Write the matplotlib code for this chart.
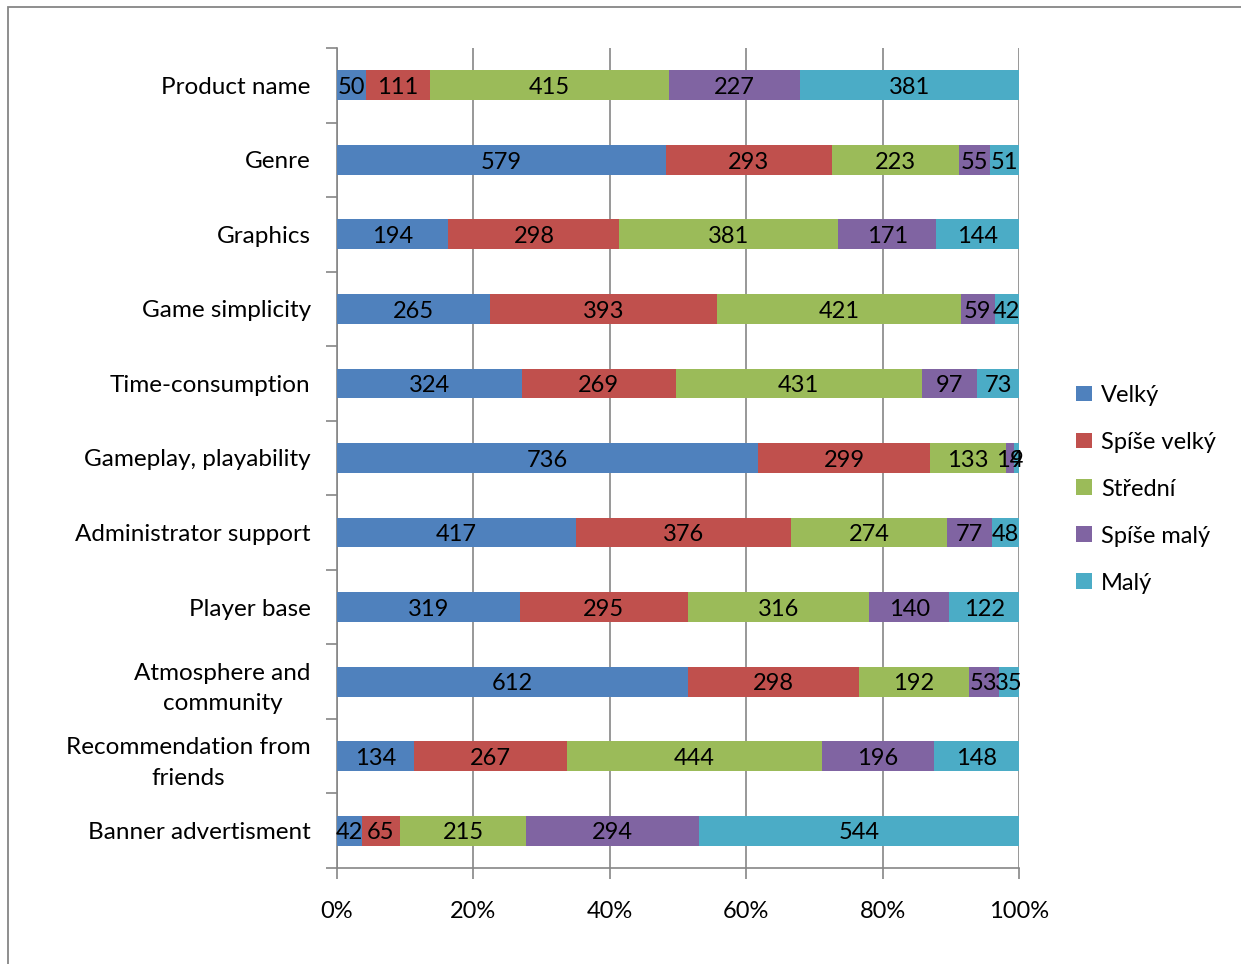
import matplotlib.pyplot as plt
from matplotlib.patches import Rectangle
import numpy as np

plt.rcParams['font.family'] = ['Lato', 'DejaVu Sans']

categories = ["Product name", "Genre", "Graphics", "Game simplicity",
              "Time-consumption", "Gameplay, playability", "Administrator support",
              "Player base", "Atmosphere and\ncommunity",
              "Recommendation from\nfriends", "Banner advertisment"]
series = ["Velký", "Spíše velký", "Střední", "Spíše malý", "Malý"]
colors = ["#4F81BD", "#C0504D", "#9BBB59", "#8064A2", "#4BACC6"]

velky = [50, 579, 194, 265, 324, 736, 417, 319, 612, 134, 42]
spise_velky = [111, 293, 298, 393, 269, 299, 376, 295, 298, 267, 65]
stredni = [415, 223, 381, 421, 431, 133, 274, 316, 192, 444, 215]
spise_maly = [227, 55, 171, 59, 97, 14, 77, 140, 53, 196, 294]
maly = [381, 51, 144, 42, 73, 9, 48, 122, 35, 148, 544]

data = np.array([velky, spise_velky, stredni, spise_maly, maly], dtype=float)
totals = data.sum(axis=0)
pct = data / totals

fig = plt.figure(figsize=(12.41, 9.64), dpi=100)
ax = fig.add_axes([0.2716, 0.0996, 0.5495, 0.8506])

y = np.arange(len(categories))
left = np.zeros(len(categories))
for i, name in enumerate(series):
    ax.barh(y, pct[i], left=left, height=0.4, color=colors[i], label=name, zorder=3)
    for j in range(len(categories)):
        ax.text(left[j] + pct[i][j] / 2, y[j] + 0.03, str(int(data[i][j])),
                ha='center', va='center', fontsize=17, color='black', zorder=4)
    left += pct[i]

ax.set_xlim(0, 1)
ax.set_ylim(len(categories) - 0.5, -0.5)
ax.set_xticks(np.linspace(0, 1, 6))
ax.set_xticklabels(["0%", "20%", "40%", "60%", "80%", "100%"], fontsize=17)
ax.set_yticks(y)
ax.set_yticklabels(categories, fontsize=17.5, ha='right', multialignment='center',
                   linespacing=1.55)
ax.set_yticks(np.arange(-0.5, len(categories), 1), minor=True)
ax.tick_params(axis='y', which='major', length=0, pad=19)
ax.tick_params(axis='y', which='minor', length=8, color='#868686', width=1.2, direction='out')
ax.tick_params(axis='x', length=8, color='#868686', width=1.2, pad=16)
ax.grid(axis='x', color='#868686', linewidth=1.2, zorder=0)
for s in ['top', 'right']:
    ax.spines[s].set_visible(False)
for s in ['left', 'bottom']:
    ax.spines[s].set_color('#868686')
    ax.spines[s].set_linewidth(1.2)

ax.legend(loc='center left', bbox_to_anchor=(1.07, 0.462), frameon=False,
          fontsize=17, handlelength=0.65, handleheight=0.65, handletextpad=0.4,
          labelspacing=1.1, borderaxespad=0)

fig.patches.append(Rectangle((8 / 1241, -0.1), 1.2, 1 - 7 / 964 + 0.1,
                             transform=fig.transFigure, fill=False,
                             edgecolor='#868686', linewidth=1.3))

fig.savefig("out.png", dpi=100)
